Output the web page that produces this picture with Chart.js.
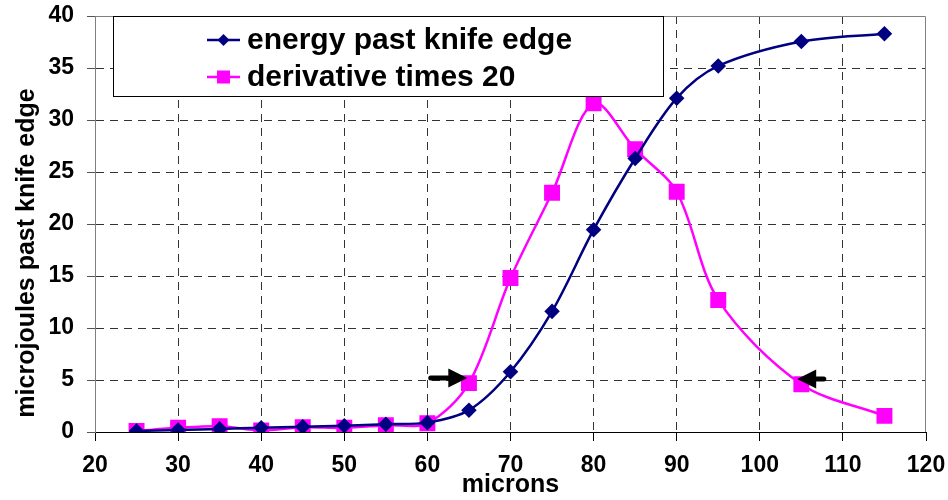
<!DOCTYPE html>
<html>
<head>
<meta charset="utf-8">
<script src="https://cdn.jsdelivr.net/npm/chart.js@4"></script>
<style>
  html, body { margin: 0; padding: 0; background: #fff; }
</style>
</head>
<body>
<canvas id="myChart" width="948" height="500"></canvas>
<script>
// values
const microns = [25, 30, 35, 40, 45, 50, 55, 60, 65, 70, 75, 80, 85, 90, 95, 105, 115];
const energy = [0.1, 0.2, 0.3, 0.4, 0.5, 0.6, 0.75, 0.9, 2.1, 5.8, 11.6, 19.45, 26.3, 32.1, 35.2, 37.55, 38.3];
const derivative = [0.1, 0.4, 0.55, 0.15, 0.45, 0.4, 0.65, 0.85, 4.7, 14.8, 23.0, 31.6, 27.2, 23.1, 12.7, 4.6, 1.55];
const seriesNames = ['energy past knife edge', 'derivative times 20'];
const xTitle = 'microns';
const yTitle = 'microjoules past knife edge';

// arrows marking the 5-microjoule points, in data units [fromX, toX, y]
const arrows = [[60.4, 64.8, 5.2], [107.7, 104.5, 5.1]];

const FONT = "'Liberation Sans', Arial, sans-serif";
const NAVY = '#000080';
const MAGENTA = '#ff00ff';

const toPoints = (xs, ys) => xs.map((x, i) => ({ x: x, y: ys[i] }));

const extras = {
  id: 'extras',
  beforeDatasetsDraw(chart) {
    const { ctx, chartArea: a } = chart;
    ctx.save();
    ctx.strokeStyle = '#808080';
    ctx.lineWidth = 1;
    ctx.beginPath();
    ctx.moveTo(a.left, a.top + 0.5);
    ctx.lineTo(a.right - 0.5, a.top + 0.5);
    ctx.lineTo(a.right - 0.5, a.bottom);
    ctx.stroke();
    ctx.restore();
  },
  afterDraw(chart) {
    const ctx = chart.ctx;
    const xs = chart.scales.x, ys = chart.scales.y;

    // arrows
    ctx.save();
    ctx.fillStyle = '#000';
    ctx.strokeStyle = '#000';
    arrows.forEach(([x0, x1, yv]) => {
      const px0 = xs.getPixelForValue(x0), px1 = xs.getPixelForValue(x1);
      const py = ys.getPixelForValue(yv);
      const dir = px1 > px0 ? 1 : -1;
      const headLen = 19;
      ctx.lineWidth = 5;
      ctx.lineCap = 'round';
      ctx.beginPath();
      ctx.moveTo(px0, py);
      ctx.lineTo(px1 - dir * headLen, py);
      ctx.stroke();
      ctx.beginPath();
      ctx.moveTo(px1, py);
      ctx.lineTo(px1 - dir * headLen, py - 9.5);
      ctx.lineTo(px1 - dir * headLen, py + 9.5);
      ctx.closePath();
      ctx.fill();
    });
    ctx.restore();

    // legend box
    ctx.save();
    ctx.fillStyle = '#fff';
    ctx.fillRect(113, 16, 551, 81);
    ctx.strokeStyle = '#000';
    ctx.lineWidth = 1;
    ctx.strokeRect(113.5, 16.5, 550, 80);
    chart.data.datasets.forEach((ds, i) => {
      const y = 40 + i * 37;
      ctx.strokeStyle = ds.borderColor;
      ctx.lineWidth = 2.5;
      ctx.beginPath();
      ctx.moveTo(207, y);
      ctx.lineTo(240, y);
      ctx.stroke();
      ctx.fillStyle = ds.backgroundColor;
      ctx.beginPath();
      if (ds.pointStyle === 'rectRot') {
        const r = 6;
        ctx.moveTo(223.5 - r, y);
        ctx.lineTo(223.5, y - r);
        ctx.lineTo(223.5 + r, y);
        ctx.lineTo(223.5, y + r);
        ctx.closePath();
      } else {
        ctx.rect(223.5 - 6.5, y - 6.5, 13, 13);
      }
      ctx.fill();
      ctx.fillStyle = '#000';
      ctx.font = 'bold 30px ' + FONT;
      ctx.textBaseline = 'middle';
      ctx.textAlign = 'left';
      ctx.fillText(ds.label, 247, y + 1);
    });
    ctx.restore();

    // y axis title
    ctx.save();
    ctx.translate(27, 253);
    ctx.rotate(-Math.PI / 2);
    ctx.font = 'bold 25px ' + FONT;
    ctx.fillStyle = '#000';
    ctx.textAlign = 'center';
    ctx.textBaseline = 'middle';
    ctx.fillText(yTitle, 0, 0);
    ctx.restore();
  }
};

const ctx = document.getElementById('myChart').getContext('2d');
const myChart = new Chart(ctx, {
  type: 'line',
  data: {
    datasets: [
      {
        label: seriesNames[0],
        data: toPoints(microns, energy),
        borderColor: NAVY,
        backgroundColor: NAVY,
        borderWidth: 2.5,
        pointStyle: 'rectRot',
        pointRadius: 6,
        pointHoverRadius: 6,
        tension: 0.32
      },
      {
        label: seriesNames[1],
        data: toPoints(microns, derivative),
        borderColor: MAGENTA,
        backgroundColor: MAGENTA,
        borderWidth: 2.5,
        pointStyle: 'rect',
        pointRadius: 9.5,
        pointHoverRadius: 9.5,
        tension: 0.32
      }
    ]
  },
  options: {
    responsive: false,
    animation: false,
    devicePixelRatio: 1,
    layout: { padding: { left: 0, top: 16, right: 22, bottom: 0 } },
    plugins: {
      legend: { display: false },
      tooltip: { enabled: false }
    },
    scales: {
      x: {
        type: 'linear',
        min: 20,
        max: 120,
        ticks: {
          stepSize: 10,
          color: '#000',
          padding: 11,
          font: { family: FONT, size: 23, weight: 'bold' }
        },
        grid: {
          color: (c) => (c.index === 0 || c.index === 10) ? 'rgba(0,0,0,0)' : '#333',
          tickColor: '#000',
          tickLength: 9,
          tickBorderDash: []
        },
        border: { color: '#000', width: 1, dash: [8, 6] },
        title: {
          display: true,
          text: xTitle,
          color: '#000',
          padding: { top: -14, bottom: 0 },
          font: { family: FONT, size: 25, weight: 'bold' }
        },
        afterFit: (s) => { s.height = 68; s.paddingLeft = 0; s.paddingRight = 0; }
      },
      y: {
        min: 0,
        max: 40,
        ticks: {
          stepSize: 5,
          color: '#000',
          padding: 13,
          font: { family: FONT, size: 23, weight: 'bold' }
        },
        grid: {
          color: (c) => (c.index === 0 || c.index === 8) ? 'rgba(0,0,0,0)' : '#333',
          tickColor: '#555',
          tickLength: 8,
          tickBorderDash: []
        },
        border: { color: '#808080', width: 1, dash: [8, 6] },
        afterFit: (s) => { s.width = 95; s.paddingTop = 0; s.paddingBottom = 0; }
      }
    }
  },
  plugins: [extras]
});
</script>
</body>
</html>
